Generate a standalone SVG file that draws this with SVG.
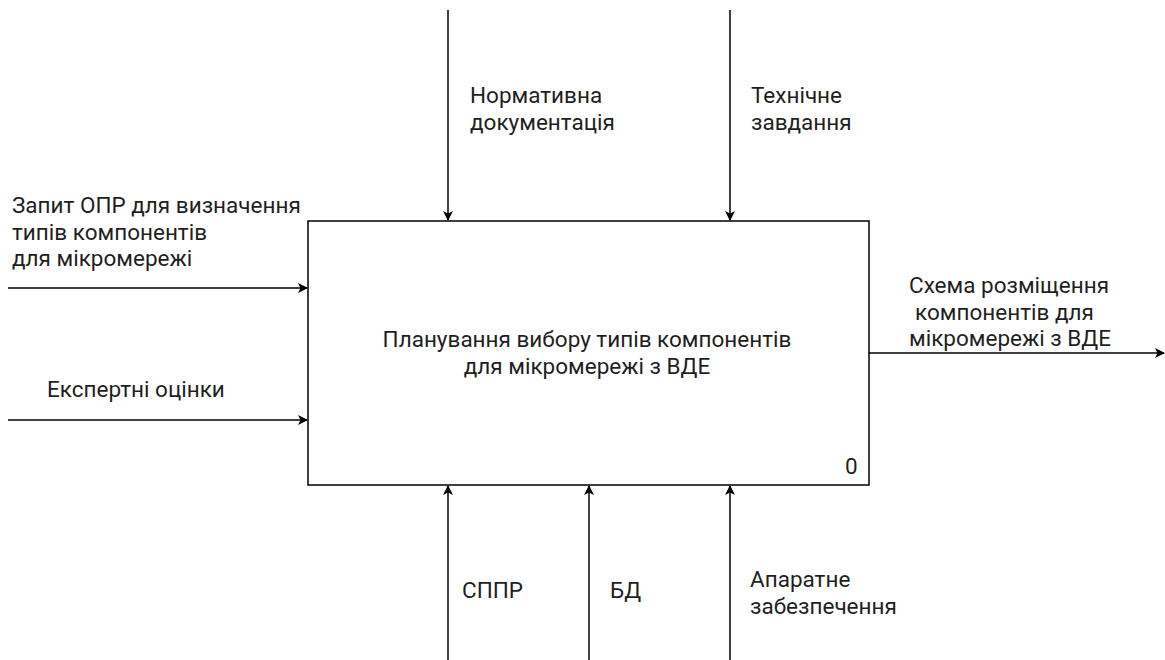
<svg xmlns="http://www.w3.org/2000/svg" width="1165" height="660" viewBox="0 0 1165 660">
<style>
text{font-family:Roboto,"Liberation Sans",Arial,sans-serif;font-size:22.5px;fill:#1f1f1f}
.c{text-anchor:middle}
.ln{stroke:#000;stroke-width:1.5;fill:none}
</style>
<defs>
<marker id="ah" viewBox="0 0 10 10" refX="9" refY="5" markerWidth="10" markerHeight="10" markerUnits="userSpaceOnUse" orient="auto">
<path d="M0,0 L10,5 L0,10 L2.5,5 Z" fill="#000"/>
</marker>
</defs>
<rect width="1165" height="660" fill="#fff"/>
<g id="connectors">
<line class="ln" x1="8" y1="288" x2="307" y2="288" marker-end="url(#ah)"/>
<line class="ln" x1="8" y1="420" x2="307" y2="420" marker-end="url(#ah)"/>
<line class="ln" x1="448" y1="10" x2="448" y2="220" marker-end="url(#ah)"/>
<line class="ln" x1="730" y1="10" x2="730" y2="220" marker-end="url(#ah)"/>
<line class="ln" x1="869" y1="353" x2="1164" y2="353" marker-end="url(#ah)"/>
<line class="ln" x1="448" y1="660" x2="448" y2="486" marker-end="url(#ah)"/>
<line class="ln" x1="589" y1="660" x2="589" y2="486" marker-end="url(#ah)"/>
<line class="ln" x1="730" y1="660" x2="730" y2="486" marker-end="url(#ah)"/>
</g>
<g id="labels">
<text x="12" y="213">Запит ОПР для визначення</text>
<text x="12" y="240">типів компонентів</text>
<text x="12" y="266">для мікромережі</text>
<text x="47" y="397">Експертні оцінки</text>
<text x="470" y="103">Нормативна</text>
<text x="470" y="130">документація</text>
<text x="751" y="103">Технічне</text>
<text x="751" y="130">завдання</text>
<text x="909" y="293">Схема розміщення</text>
<text x="915" y="320">компонентів для</text>
<text x="909" y="346">мікромережі з ВДЕ</text>
<text x="462" y="598">СППР</text>
<text x="610" y="598">БД</text>
<text x="750" y="587">Апаратне</text>
<text x="750" y="614">забезпечення</text>
</g>
<g id="node-a0">
<rect x="308" y="221" width="561" height="264" fill="#fff" stroke="#000" stroke-width="1.5"/>
<text class="c" x="587" y="347">Планування вибору типів компонентів</text>
<text class="c" x="587" y="374">для мікромережі з ВДЕ</text>
<text x="845" y="474">0</text>
</g>
</svg>
